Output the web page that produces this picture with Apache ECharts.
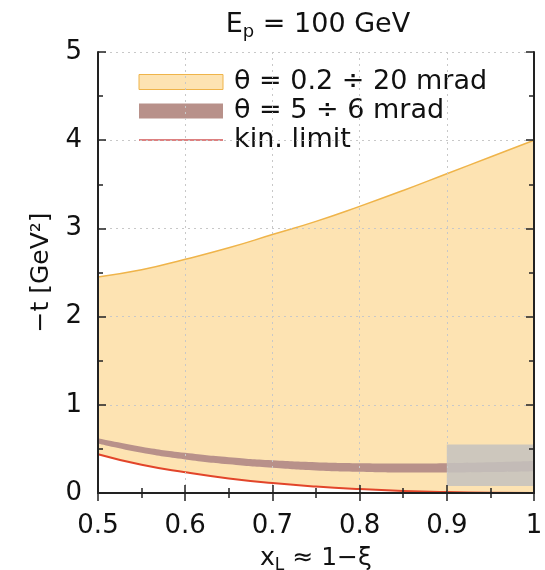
<!DOCTYPE html>
<html>
<head>
<meta charset="utf-8">
<script src="https://cdn.jsdelivr.net/npm/echarts@6/dist/echarts.min.js"></script>
<style>html,body{margin:0;padding:0;background:#fff}#c{width:545px;height:570px}</style>
</head>
<body>
<div id="c"></div>
<script>
// x_L sample points
var xL = [0.5, 0.55, 0.6, 0.65, 0.7, 0.75, 0.8, 0.85, 0.9, 0.95, 1.0];
// upper edge of theta = 0.2-20 mrad region (-t, GeV^2)
var upperWide = [2.45, 2.53, 2.65, 2.78, 2.93, 3.08, 3.25, 3.43, 3.62, 3.81, 4.0];
// kinematic limit
var kinLimit = [0.44, 0.32, 0.235, 0.165, 0.113, 0.073, 0.044, 0.023, 0.01, 0.003, 0.0];
// theta = 5-6 mrad band
var bandLow = [0.56, 0.455, 0.38, 0.325, 0.285, 0.255, 0.24, 0.232, 0.232, 0.237, 0.247];
var bandHigh = [0.62, 0.525, 0.455, 0.405, 0.37, 0.348, 0.337, 0.334, 0.338, 0.348, 0.362];
// gray box [x0, x1, y0, y1]
var grayBox = [0.9, 1.0, 0.08, 0.55];
var xTicks = [0.5, 0.6, 0.7, 0.8, 0.9, 1];
var yTicks = [0, 1, 2, 3, 4, 5];

var names = ['θ = 0.2 ÷ 20 mrad', 'θ = 5 ÷ 6 mrad', 'kin. limit'];
var PEACH = '#fde3b2', BROWN = '#b8918a', GOLD = '#efb44a', RED = '#e2452a';

function pairs(ys) { return xL.map(function (x, i) { return [x, ys[i]]; }); }

var FONT = 'DejaVu Sans';
var chart = echarts.init(document.getElementById('c'));
var axisCommon = {
  type: 'value',
  axisLine: { show: true, lineStyle: { color: '#222', width: 2 } },
  axisTick: { show: true, inside: true, length: 8, lineStyle: { color: '#222', width: 1.5 } },
  minorTick: { show: true, splitNumber: 2, length: 5, lineStyle: { color: '#222', width: 1.5 } },
  z: 10
};
function areaSeries(name, ys, fill, line, z) {
  return { name: name, type: 'line', data: pairs(ys), smooth: true, symbol: 'none',
    lineStyle: line ? { color: line, width: 1.5 } : { width: 0, opacity: 0 },
    itemStyle: { color: fill }, areaStyle: { color: fill, opacity: 1, origin: 'start' }, z: z };
}
chart.setOption({
  animation: false,
  backgroundColor: '#fff',
  textStyle: { fontFamily: FONT },
  title: {
    text: 'E{s|p} = 100 GeV',
    left: 313, top: 4, textAlign: 'center',
    textStyle: {
      fontFamily: FONT, fontSize: 27, fontWeight: 'normal', color: '#111',
      rich: { s: { fontSize: 18, verticalAlign: 'bottom', padding: [14, 0, 0, 0], fontFamily: FONT, color: '#111' } }
    }
  },
  legend: {
    orient: 'vertical', left: 133, top: 63, itemWidth: 84, itemHeight: 15, itemGap: 1,
    textStyle: { fontFamily: FONT, fontSize: 27, color: '#111', padding: [0, 0, 0, 6], lineHeight: 28 },
    data: [
      { name: names[0], icon: 'rect', itemStyle: { color: PEACH, borderColor: GOLD, borderWidth: 1 } },
      { name: names[1], icon: 'rect', itemStyle: { color: BROWN, borderWidth: 0 } },
      { name: names[2], icon: 'inherit', itemStyle: { opacity: 0 },
        lineStyle: { color: '#dd8080', width: 2, opacity: 1 } }
    ]
  },
  grid: { left: 98, right: 11, top: 52, bottom: 77, outerBoundsMode: 'none', containLabel: false },
  xAxis: [
    Object.assign({}, axisCommon, {
      min: xTicks[0], max: xTicks[xTicks.length - 1], interval: 0.1, position: 'bottom',
      axisLabel: { fontFamily: FONT, fontSize: 26, color: '#111', margin: 20,
        formatter: function (v) { return String(+v.toFixed(1)); } },
      splitLine: { show: true, lineStyle: { color: '#c8c8c8', type: [2, 4], width: 1 } },
      name: 'x{s|L} ≈ 1−ξ', nameLocation: 'middle', nameGap: 50,
      nameTextStyle: { fontFamily: FONT, fontSize: 25, color: '#111',
        rich: { s: { fontSize: 17, verticalAlign: 'bottom', padding: [14, 0, 0, 0], fontFamily: FONT, color: '#111' } } }
    }),
    Object.assign({}, axisCommon, {
      min: xTicks[0], max: xTicks[xTicks.length - 1], interval: 0.1, position: 'top',
      axisLabel: { show: false }, splitLine: { show: false }
    })
  ],
  yAxis: [
    Object.assign({}, axisCommon, {
      min: yTicks[0], max: yTicks[yTicks.length - 1], interval: 1, position: 'left',
      axisLabel: { fontFamily: FONT, fontSize: 26, color: '#111', margin: 16 },
      splitLine: { show: true, lineStyle: { color: '#c8c8c8', type: [2, 4], width: 1 } },
      name: '−t [GeV²]', nameLocation: 'middle', nameGap: 44, nameRotate: 90,
      nameTextStyle: { fontFamily: FONT, fontSize: 25, color: '#111' }
    }),
    Object.assign({}, axisCommon, {
      min: yTicks[0], max: yTicks[yTicks.length - 1], interval: 1, position: 'right',
      axisLabel: { show: false }, splitLine: { show: false }
    })
  ],
  series: [
    areaSeries(names[0], upperWide, PEACH, GOLD, 2),
    areaSeries(names[1], bandHigh, BROWN, null, 3),
    areaSeries('bandBelow', bandLow, PEACH, null, 4),
    areaSeries('belowKin', kinLimit, '#ffffff', null, 5),
    { name: names[2], type: 'line', data: pairs(kinLimit), smooth: true, symbol: 'none',
      lineStyle: { color: RED, width: 2 }, itemStyle: { color: RED }, z: 6,
      markArea: { silent: true, z: 8, itemStyle: { color: 'rgba(196,194,190,0.85)' },
        data: [[{ coord: [grayBox[0], grayBox[3]] }, { coord: [grayBox[1], grayBox[2]] }]] } }
  ]
});
</script>
</body>
</html>
